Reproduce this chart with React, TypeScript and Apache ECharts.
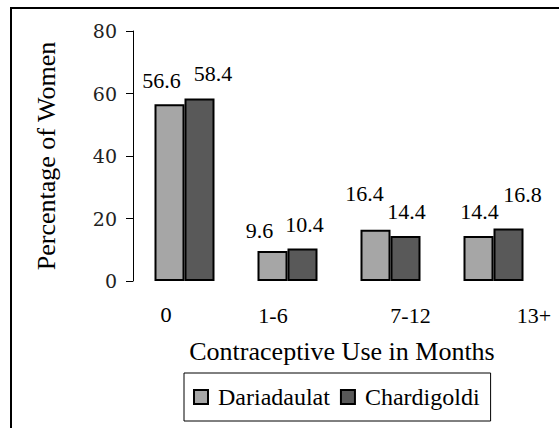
import React, { useEffect, useRef } from "react";
import * as echarts from "echarts";

const categories = ["0", "1-6", "7-12", "13+"];
const dariadaulat = [56.6, 9.6, 16.4, 14.4];
const chardigoldi = [58.4, 10.4, 14.4, 16.8];
const seriesNames = ["Dariadaulat", "Chardigoldi"];
const yMin = 0;
const yMax = 80;
const yInterval = 20;

// label placement tweaks (style, not data)
const dariaLabelOffsets = [[-8, -8], [-13, -5], [-11, -20], [1, -9]];
const chardLabelOffsets = [[13.5, -9], [2, -8.5], [1, -9], [14, -18.5]];
const xLabelPadding = [[0, 37, 0, 0], [0, 29, 0, 0], [0, 0, 0, 40], [0, 0, 0, 81]];

const SERIF = "Liberation Serif";
const SERIF2 = "DejaVu Serif";

export default function App() {
  const ref = useRef<HTMLDivElement>(null);
  useEffect(() => {
    if (!ref.current) return;
    const chart = echarts.init(ref.current, undefined, { renderer: "svg" });
    const rich: Record<string, any> = {};
    categories.forEach((_, i) => {
      rich["c" + i] = {
        padding: xLabelPadding[i],
        fontFamily: i === 0 ? SERIF2 : SERIF,
        fontSize: i === 0 ? 19 : 22,
        lineHeight: 22,
        color: "#000",
      };
    });
    const mk = (vals: number[], offs: number[][]) =>
      vals.map((v, i) => ({ value: v, label: { offset: offs[i] } }));
    const labelStyle = {
      show: true,
      position: "top",
      distance: 5,
      fontFamily: SERIF,
      fontSize: 22,
      color: "#000",
    };
    chart.setOption({
      animation: false,
      backgroundColor: "#fff",
      graphic: [
        {
          type: "rect",
          silent: true,
          z: -1,
          shape: { x: 11, y: 8, width: 800, height: 700 },
          style: { fill: "none", stroke: "#000", lineWidth: 2 },
        },
      ],
      grid: { left: 133, right: 14, top: 31, bottom: 147, containLabel: false },
      legend: {
        data: seriesNames,
        left: 184,
        top: 373,
        orient: "horizontal",
        padding: [12, 11, 12, 9],
        borderColor: "#000",
        borderWidth: 1,
        itemGap: 10,
        itemWidth: 14,
        itemHeight: 14,
        icon: "rect",
        textStyle: {
          fontFamily: SERIF,
          fontSize: 24,
          color: "#000",
          padding: [0, 0, 0, 5],
        },
      },
      xAxis: {
        type: "category",
        data: categories,
        axisLine: { show: false },
        axisTick: { show: false },
        axisLabel: {
          interval: 0,
          margin: 23,
          formatter: (v: string, i: number) => `{c${i}|${v}}`,
          rich,
        },
        name: "Contraceptive Use in Months",
        nameLocation: "middle",
        nameGap: 57,
        nameTextStyle: {
          fontFamily: SERIF,
          fontSize: 26,
          color: "#000",
          padding: [0, 0, 0, 6],
        },
      },
      yAxis: {
        type: "value",
        min: yMin,
        max: yMax,
        interval: yInterval,
        splitLine: { show: false },
        axisLine: { show: true, lineStyle: { color: "#000", width: 1 } },
        axisTick: { show: true, length: 7, lineStyle: { color: "#000" } },
        axisLabel: {
          margin: 16,
          fontFamily: SERIF2,
          fontSize: 19,
          color: "#222",
        },
        name: "Percentage of Women",
        nameLocation: "middle",
        nameRotate: 90,
        nameGap: 74,
        nameTextStyle: { fontFamily: SERIF, fontSize: 26, color: "#000" },
      },
      series: [
        {
          name: seriesNames[0],
          type: "bar",
          barWidth: 30,
          barGap: "0%",
          data: mk(dariadaulat, dariaLabelOffsets),
          itemStyle: { color: "#a6a6a6", borderColor: "#000", borderWidth: 2 },
          label: labelStyle,
        },
        {
          name: seriesNames[1],
          type: "bar",
          barWidth: 30,
          barGap: "0%",
          data: mk(chardigoldi, chardLabelOffsets),
          itemStyle: { color: "#595959", borderColor: "#000", borderWidth: 2 },
          label: labelStyle,
        },
      ],
    });
    return () => chart.dispose();
  }, []);
  return (
    <div
      ref={ref}
      style={{ position: "absolute", left: 0, top: 0, width: 559, height: 428 }}
    />
  );
}
